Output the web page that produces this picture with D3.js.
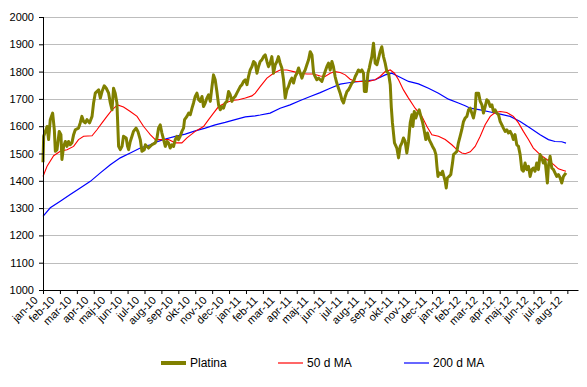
<!DOCTYPE html>
<html>
<head>
<meta charset="utf-8">
<script src="https://cdn.jsdelivr.net/npm/d3@7"></script>
<style>
    body { margin: 0; background: #fff; }
    svg { font-family: "Liberation Sans", Arial, sans-serif; }
    .axis path, .axis line { stroke: #000; }
    .axis text { fill: #000; font-size: 11px; }
    .grid line { stroke: #bdbdbd; stroke-width: 1; }
</style>
</head>
<body>
<svg width="587" height="387"></svg>
<script>
// x values are months since jan-10 (fractional), y values are USD/oz
var tickLabels = [
    "jan-10", "feb-10", "mar-10", "apr-10", "maj-10", "jun-10", "jul-10",
    "aug-10", "sep-10", "okt-10", "nov-10", "dec-10",
    "jan-11", "feb-11", "mar-11", "apr-11", "maj-11", "jun-11", "jul-11",
    "aug-11", "sep-11", "okt-11", "nov-11", "dec-11",
    "jan-12", "feb-12", "mar-12", "apr-12", "maj-12", "jun-12", "jul-12",
    "aug-12"
];
var yTicks = [1000, 1100, 1200, 1300, 1400, 1500, 1600, 1700, 1800, 1900,
    2000];
var seriesNames = ["Platina", "50 d MA", "200 d MA"];

var platina = [
    [0.00, 1468], [0.04, 1563], [0.24, 1599], [0.33, 1551], [0.43, 1624],
    [0.57, 1648], [0.67, 1587], [0.73, 1508], [0.83, 1514], [0.96, 1581],
    [1.06, 1569], [1.12, 1478], [1.22, 1526], [1.32, 1544], [1.42, 1526],
    [1.51, 1544], [1.61, 1532], [1.71, 1539], [1.81, 1569], [1.91, 1587],
    [2.10, 1593], [2.20, 1612], [2.30, 1636], [2.40, 1617], [2.50, 1612],
    [2.60, 1624], [2.75, 1612], [2.90, 1636], [2.99, 1685], [3.09, 1721],
    [3.29, 1733], [3.39, 1703], [3.49, 1727], [3.62, 1748], [3.74, 1739],
    [3.88, 1721], [3.98, 1685], [4.08, 1660], [4.17, 1739], [4.27, 1721],
    [4.37, 1685], [4.47, 1526], [4.57, 1514], [4.67, 1526], [4.76, 1563],
    [4.92, 1557], [5.00, 1526], [5.06, 1514], [5.16, 1544], [5.26, 1563],
    [5.35, 1581], [5.50, 1593], [5.61, 1581], [5.75, 1551], [5.85, 1508],
    [5.99, 1514], [6.05, 1532], [6.24, 1520], [6.44, 1532], [6.64, 1539],
    [6.74, 1557], [6.83, 1593], [6.93, 1605], [7.03, 1575], [7.13, 1551],
    [7.23, 1526], [7.33, 1544], [7.42, 1539], [7.52, 1520], [7.62, 1532],
    [7.72, 1526], [7.82, 1551], [7.92, 1563], [8.01, 1551], [8.11, 1563],
    [8.21, 1581], [8.31, 1593], [8.37, 1624], [8.51, 1636], [8.61, 1648],
    [8.71, 1642], [8.81, 1666], [8.90, 1685], [9.00, 1709], [9.10, 1721],
    [9.20, 1697], [9.30, 1691], [9.40, 1709], [9.49, 1672], [9.59, 1685],
    [9.69, 1703], [9.79, 1715], [9.89, 1691], [9.99, 1745], [10.08, 1788],
    [10.18, 1770], [10.28, 1727], [10.38, 1678], [10.48, 1660],
    [10.58, 1672], [10.67, 1666], [10.77, 1685], [10.87, 1691],
    [10.97, 1727], [11.07, 1715], [11.17, 1691], [11.26, 1703],
    [11.36, 1709], [11.46, 1721], [11.56, 1733], [11.66, 1745],
    [11.76, 1752], [11.86, 1764], [11.96, 1770], [12.06, 1752],
    [12.15, 1782], [12.25, 1806], [12.35, 1818], [12.45, 1837],
    [12.55, 1831], [12.65, 1794], [12.74, 1818], [12.84, 1837],
    [12.94, 1843], [13.04, 1855], [13.14, 1861], [13.24, 1837],
    [13.33, 1818], [13.43, 1831], [13.53, 1855], [13.63, 1794],
    [13.73, 1825], [13.83, 1837], [13.92, 1855], [14.02, 1831],
    [14.12, 1813], [14.22, 1770], [14.32, 1703], [14.42, 1733],
    [14.51, 1745], [14.61, 1764], [14.71, 1776], [14.81, 1758],
    [14.91, 1782], [15.01, 1794], [15.11, 1813], [15.21, 1794],
    [15.31, 1776], [15.40, 1794], [15.50, 1806], [15.60, 1825],
    [15.70, 1843], [15.80, 1873], [15.90, 1861], [16.00, 1794],
    [16.09, 1782], [16.19, 1770], [16.29, 1776], [16.39, 1770],
    [16.49, 1764], [16.58, 1782], [16.68, 1800], [16.78, 1818],
    [16.88, 1831], [16.98, 1806], [17.08, 1837], [17.17, 1818],
    [17.27, 1782], [17.37, 1758], [17.47, 1739], [17.57, 1721],
    [17.67, 1697], [17.77, 1685], [17.87, 1709], [17.97, 1727],
    [18.06, 1733], [18.16, 1745], [18.26, 1758], [18.36, 1764],
    [18.46, 1782], [18.56, 1794], [18.65, 1806], [18.75, 1800],
    [18.85, 1806], [18.95, 1794], [19.00, 1727], [19.11, 1727],
    [19.21, 1794], [19.29, 1813], [19.35, 1831], [19.44, 1855],
    [19.54, 1904], [19.64, 1831], [19.74, 1825], [19.84, 1849],
    [19.93, 1873], [20.03, 1891], [20.13, 1855], [20.23, 1831],
    [20.33, 1800], [20.43, 1794], [20.53, 1752], [20.59, 1672],
    [20.66, 1612], [20.78, 1539], [20.92, 1520], [21.02, 1484],
    [21.12, 1526], [21.22, 1539], [21.31, 1557], [21.41, 1544],
    [21.51, 1502], [21.61, 1544], [21.71, 1612], [21.81, 1642],
    [21.87, 1599], [21.95, 1654], [22.04, 1630], [22.14, 1648],
    [22.24, 1660], [22.34, 1636], [22.43, 1617], [22.53, 1587],
    [22.63, 1551], [22.73, 1575], [22.83, 1551], [22.93, 1539],
    [23.03, 1526], [23.14, 1514], [23.23, 1496], [23.29, 1453],
    [23.35, 1416], [23.42, 1429], [23.54, 1423], [23.62, 1435],
    [23.70, 1416], [23.78, 1398], [23.84, 1374], [23.91, 1411],
    [24.01, 1416], [24.11, 1423], [24.21, 1465], [24.27, 1496],
    [24.37, 1502], [24.47, 1508], [24.56, 1539], [24.66, 1563],
    [24.76, 1587], [24.86, 1617], [24.96, 1630], [25.06, 1636],
    [25.16, 1660], [25.26, 1666], [25.35, 1648], [25.45, 1630],
    [25.55, 1660], [25.61, 1721], [25.75, 1721], [25.85, 1691],
    [25.95, 1678], [26.04, 1648], [26.14, 1672], [26.24, 1697],
    [26.34, 1691], [26.44, 1672], [26.54, 1678], [26.63, 1654],
    [26.73, 1660], [26.83, 1648], [26.93, 1642], [27.03, 1617],
    [27.13, 1605], [27.22, 1593], [27.32, 1581], [27.42, 1587],
    [27.52, 1575], [27.62, 1581], [27.72, 1569], [27.81, 1551],
    [27.91, 1569], [28.01, 1532], [28.11, 1526], [28.21, 1496],
    [28.31, 1441], [28.40, 1435], [28.50, 1465], [28.60, 1441],
    [28.70, 1453], [28.80, 1416], [28.90, 1441], [28.99, 1447],
    [29.09, 1435], [29.19, 1465], [29.29, 1441], [29.39, 1496],
    [29.49, 1484], [29.58, 1465], [29.68, 1478], [29.82, 1392],
    [29.88, 1453], [29.98, 1490], [30.08, 1447], [30.18, 1441],
    [30.27, 1429], [30.37, 1416], [30.47, 1423], [30.57, 1411],
    [30.67, 1392], [30.77, 1416], [30.92, 1429]
];

var ma50 = [
    [0.00, 1416], [0.24, 1453], [0.63, 1492], [1.02, 1508], [1.42, 1514],
    [1.81, 1526], [2.10, 1551], [2.40, 1563], [2.90, 1565], [3.19, 1587],
    [3.49, 1612], [3.78, 1636], [4.08, 1660], [4.41, 1678], [4.76, 1670],
    [5.16, 1654], [5.56, 1636], [5.95, 1599], [6.24, 1577], [6.34, 1569],
    [6.64, 1551], [7.03, 1551], [7.42, 1551], [7.82, 1539], [8.21, 1539],
    [8.51, 1557], [9.00, 1581], [9.49, 1599], [9.79, 1624], [10.08, 1648],
    [10.38, 1672], [10.77, 1685], [11.17, 1694], [11.56, 1697],
    [11.96, 1703], [12.35, 1711], [12.55, 1721], [12.84, 1745],
    [13.24, 1776], [13.63, 1794], [14.02, 1806], [14.42, 1806],
    [14.81, 1800], [15.21, 1794], [15.60, 1791], [16.00, 1791],
    [16.39, 1784], [16.68, 1782], [16.98, 1794], [17.27, 1800],
    [17.57, 1797], [17.87, 1788], [18.16, 1772], [18.46, 1764],
    [18.85, 1764], [19.24, 1764], [19.64, 1770], [19.93, 1782],
    [20.23, 1800], [20.53, 1806], [20.78, 1794], [21.02, 1770],
    [21.31, 1733], [21.61, 1703], [22.00, 1666], [22.40, 1636],
    [22.70, 1599], [22.99, 1569], [23.38, 1563], [23.78, 1551],
    [24.17, 1532], [24.47, 1514], [24.76, 1502], [24.96, 1499],
    [25.26, 1506], [25.55, 1526], [25.85, 1563], [26.14, 1605],
    [26.44, 1636], [26.73, 1650], [27.03, 1654], [27.42, 1650],
    [27.81, 1636], [28.11, 1612], [28.40, 1581], [28.70, 1551],
    [28.99, 1520], [29.39, 1496], [29.79, 1478], [30.18, 1460],
    [30.47, 1444], [30.77, 1438], [30.92, 1435]
];

var ma200 = [
    [0.00, 1270], [0.43, 1301], [1.02, 1325], [1.61, 1350], [2.20, 1374],
    [2.80, 1398], [3.39, 1429], [3.98, 1459], [4.57, 1484], [5.16, 1502],
    [5.75, 1520], [6.34, 1532], [6.64, 1541], [7.23, 1553], [7.82, 1563],
    [8.41, 1571], [9.00, 1583], [9.59, 1593], [10.18, 1605], [10.77, 1614],
    [11.36, 1624], [11.96, 1634], [12.55, 1638], [12.84, 1641],
    [13.43, 1648], [14.02, 1666], [14.61, 1678], [15.21, 1694],
    [15.80, 1709], [16.39, 1723], [16.98, 1739], [17.57, 1754],
    [18.16, 1760], [18.75, 1764], [19.05, 1766], [19.64, 1770],
    [20.23, 1788], [20.62, 1794], [21.02, 1782], [21.61, 1764],
    [22.20, 1755], [22.79, 1739], [23.38, 1721], [23.97, 1699],
    [24.56, 1685], [24.96, 1675], [25.26, 1666], [25.85, 1660],
    [26.44, 1652], [27.03, 1644], [27.62, 1636], [28.21, 1617],
    [28.80, 1593], [29.39, 1569], [29.88, 1551], [30.27, 1544],
    [30.67, 1543], [30.92, 1538]
];

(function () {
    "use strict";

    var margin = {
        top: 17, // px
        left: 43, // px
        bottom: 97, // px
        right: 9 // px
    };
    var svg = d3.select("svg");
    var width = +svg.attr("width") - margin.left - margin.right;
    var height = +svg.attr("height") - margin.top - margin.bottom;

    var main = svg.append("g")
        .attr("transform",
                "translate(" + margin.left + "," + margin.top + ")");

    var x = d3.scaleLinear()
        .domain([0, 31.63])
        .range([0, width]);
    var y = d3.scaleLinear()
        .domain([1000, 2000])
        .range([height, 0]);

    // horizontal grid
    main.append("g")
        .attr("class", "grid")
        .selectAll("line")
        .data(yTicks.slice(1))
        .join("line")
        .attr("x1", 0)
        .attr("x2", width)
        .attr("y1", function (d) { return Math.round(y(d)) + 0.5; })
        .attr("y2", function (d) { return Math.round(y(d)) + 0.5; });

    var line = d3.line()
        .x(function (d) { return x(d[0]); })
        .y(function (d) { return y(d[1]); });

    main.append("path")
        .datum(ma200)
        .attr("fill", "none")
        .attr("stroke", "#0000ff")
        .attr("stroke-width", 1.2)
        .attr("d", line);

    main.append("path")
        .datum(ma50)
        .attr("fill", "none")
        .attr("stroke", "#ff0000")
        .attr("stroke-width", 1.1)
        .attr("d", line);

    main.append("path")
        .datum(platina)
        .attr("fill", "none")
        .attr("stroke", "#808000")
        .attr("stroke-width", 3)
        .attr("stroke-linejoin", "round")
        .attr("d", line);

    // axes
    var yAxis = d3.axisLeft(y)
        .tickValues(yTicks)
        .tickFormat(d3.format("d"))
        .tickSize(4)
        .tickPadding(5);
    main.append("g")
        .attr("class", "axis y")
        .call(yAxis)
        .select(".domain")
        .attr("d", "M0.5,0V" + height);

    var xAxis = d3.axisBottom(x)
        .tickValues(d3.range(tickLabels.length))
        .tickFormat(function (i) { return tickLabels[i]; })
        .tickSize(4)
        .tickSizeOuter(0);
    var xAxisGroup = main.append("g")
        .attr("class", "axis x")
        .attr("transform", "translate(0," + height + ")")
        .call(xAxis);
    xAxisGroup.selectAll(".tick text")
        .attr("x", -5)
        .attr("y", 11)
        .attr("dy", null)
        .attr("text-anchor", "end")
        .attr("transform", "rotate(-45,-5,11)");

    // legend
    var legendItems = [
        {name: seriesNames[0], color: "#808000", w: 4, x: 161},
        {name: seriesNames[1], color: "#ff0000", w: 1.2, x: 278},
        {name: seriesNames[2], color: "#0000ff", w: 1.2, x: 404}
    ];
    var legend = svg.append("g")
        .attr("transform", "translate(0,363)");
    var item = legend.selectAll("g")
        .data(legendItems)
        .join("g")
        .attr("transform", function (d) {
            return "translate(" + d.x + ",0)";
        });
    item.append("line")
        .attr("x1", 0)
        .attr("x2", 25)
        .attr("stroke", function (d) { return d.color; })
        .attr("stroke-width", function (d) { return d.w; });
    item.append("text")
        .attr("x", 29)
        .attr("dy", "0.35em")
        .style("font-size", "12px")
        .text(function (d) { return d.name; });
}());
</script>
</body>
</html>
